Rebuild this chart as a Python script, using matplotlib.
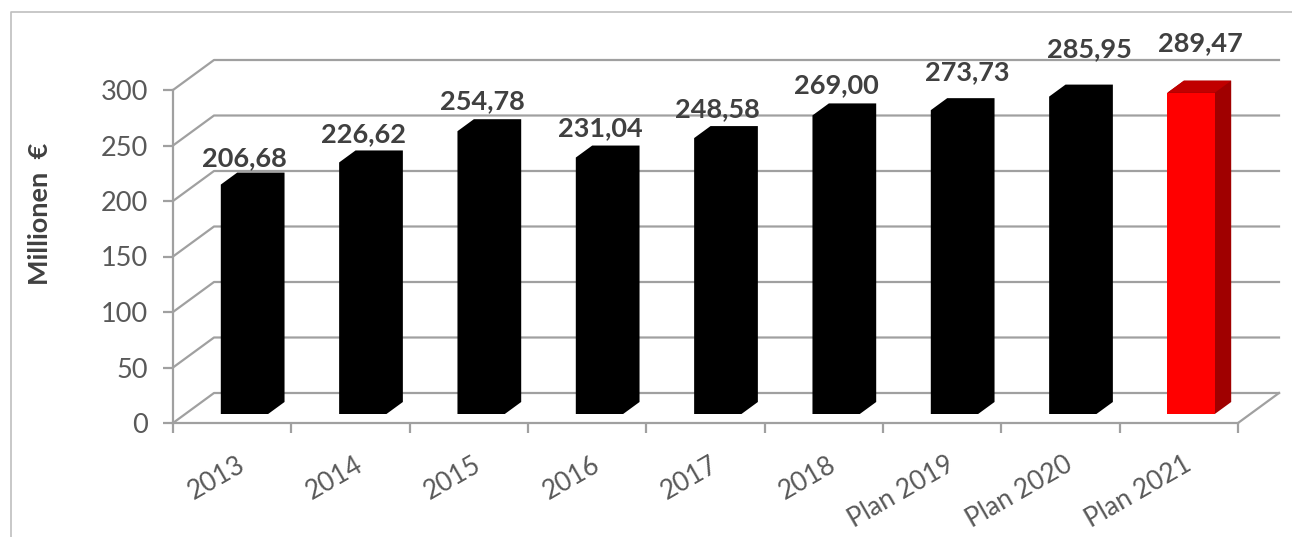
import matplotlib.pyplot as plt
from matplotlib.patches import Polygon, Rectangle

# Daten
kategorien = ['2013', '2014', '2015', '2016', '2017', '2018',
              'Plan 2019', 'Plan 2020', 'Plan 2021']
werte = [206.68, 226.62, 254.78, 231.04, 248.58, 269.00, 273.73, 285.95, 289.47]
y_ticks = [0, 50, 100, 150, 200, 250, 300]

plt.rcParams['font.family'] = ['Lato', 'DejaVu Sans']

W, H = 1292, 537
fig = plt.figure(figsize=(W / 100, H / 100), dpi=100)
ax = fig.add_axes([173 / W, (H - 423) / H, (1238 - 173) / W, (423 - 90) / H])
ax.set_xlim(0, len(kategorien))
ax.set_ylim(0, 300)
ax.set_facecolor('none')

grau = '#A0A0A0'
text_grau = '#595959'

# "3D"-Tiefe in Datenkoordinaten (Rückwand versetzt nach rechts oben)
px_x = (1238 - 173) / len(kategorien)
px_y = (423 - 90) / 300
Dx, Dy = 41 / px_x, 30 / px_y

# Gitterlinien der Rückwand + Schrägen zur Frontachse
for v in y_ticks:
    ax.plot([0, Dx, len(kategorien) + Dx], [v, v + Dy, v + Dy],
            color=grau, lw=1.6, zorder=1, clip_on=False)
# rechte Bodenkante
ax.plot([len(kategorien), len(kategorien) + Dx], [0, Dy],
        color=grau, lw=1.6, zorder=1, clip_on=False)

# Säulen
breite = 0.4
vorne, tiefe = 0.3, 0.4
for i, v in enumerate(werte):
    if i == len(werte) - 1:
        c_front, c_side, c_top = '#FF0000', '#A00000', '#C00000'
    else:
        c_front = c_side = c_top = '#000000'
    xl = i + 0.5 - breite / 2 + vorne * Dx
    xr = xl + breite
    y0 = vorne * Dy
    y1 = v + vorne * Dy
    ddx, ddy = tiefe * Dx, tiefe * Dy
    # Umriss der ganzen Säule in Seitenfarbe, darüber Deckel und Front
    ax.add_patch(Polygon([(xl, y0), (xr, y0), (xr + ddx, y0 + ddy),
                          (xr + ddx, y1 + ddy), (xl + ddx, y1 + ddy), (xl, y1)],
                         closed=True, facecolor=c_side, edgecolor='none',
                         zorder=3, clip_on=False))
    if c_front != c_side:
        ax.add_patch(Polygon([(xl, y1), (xl + ddx, y1 + ddy), (xr + ddx, y1 + ddy), (xr, y1)],
                             closed=True, facecolor=c_top, edgecolor='none',
                             zorder=3.1, clip_on=False))
        ax.add_patch(Rectangle((xl, y0), breite, v, facecolor=c_front,
                               edgecolor='none', zorder=3.2, clip_on=False))

# Datenbeschriftungen (Excel verschiebt die hinteren etwas)
label_dx = [0, 1, 1, 1, 0, 0, 13, 17, 9]
label_dy = [18, 20, 22, 21, 21, 22, 30, 39, 42]
for i, v in enumerate(werte):
    xc = i + 0.5 + vorne * Dx
    ax.annotate(f'{v:.2f}'.replace('.', ','), (xc, v + vorne * Dy),
                xytext=(label_dx[i] * 0.72, label_dy[i] * 0.72),
                textcoords='offset points', ha='center', va='baseline',
                fontsize=19.5, fontweight='bold', color='#404040',
                annotation_clip=False, zorder=5)

# Achsen
for s in ['top', 'right']:
    ax.spines[s].set_visible(False)
for s in ['left', 'bottom']:
    ax.spines[s].set_color(grau)
    ax.spines[s].set_linewidth(1.6)

ax.set_yticks(y_ticks)
ax.tick_params(axis='y', direction='out', length=7.2, width=1.6, color=grau,
               pad=11, labelsize=19.5, labelcolor=text_grau)
ax.set_xticks(range(len(kategorien) + 1))
ax.set_xticklabels([])
ax.tick_params(axis='x', direction='out', length=7.2, width=1.6, color=grau)

for i, k in enumerate(kategorien):
    ax.annotate(k, (i + 0.5, 0), xytext=(3, -21), textcoords='offset points',
                rotation=30, rotation_mode='anchor', ha='right', va='top',
                fontsize=19, color=text_grau, annotation_clip=False)

fig.text(40 / W, 1 - 214 / H, 'Millionen  €', rotation=90, ha='center',
         va='center', fontsize=19.5, fontweight='bold', color='#404040')

# Rahmen des Diagramms
fig.add_artist(plt.Line2D([11 / W, 11 / W, 1], [0, 1 - 12 / H, 1 - 12 / H],
                          transform=fig.transFigure, color='#BFBFBF', lw=1.2))

fig.savefig('out.png', dpi=100)
